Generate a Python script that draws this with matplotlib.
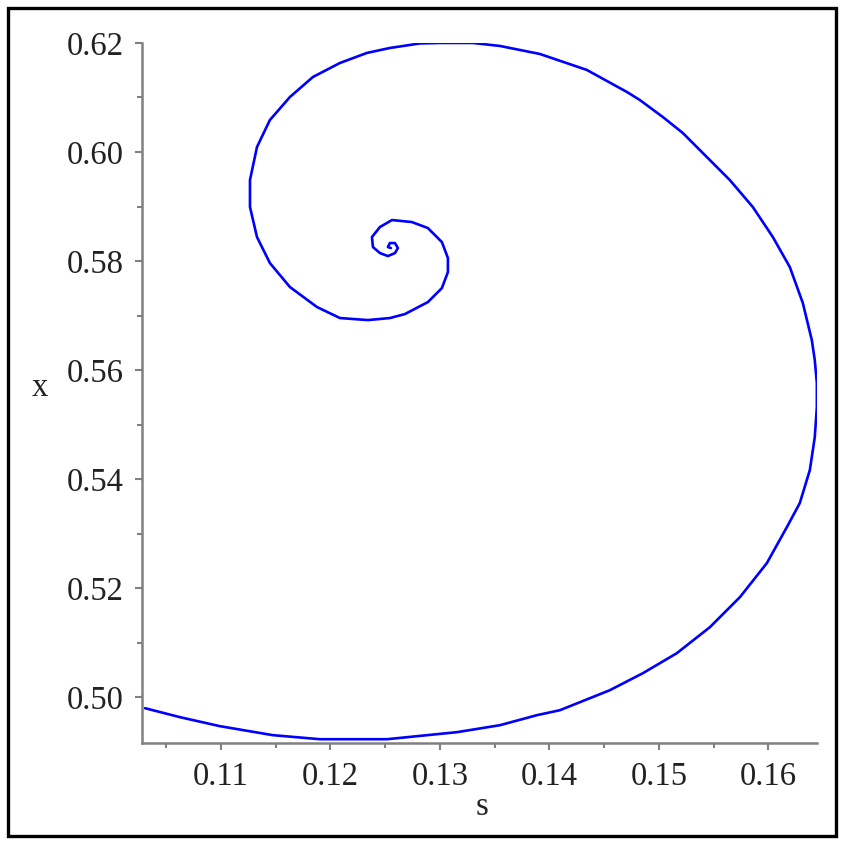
import matplotlib

matplotlib.use("Agg")
import matplotlib.pyplot as plt
from matplotlib.patches import Rectangle
from matplotlib.ticker import MultipleLocator

# trajectory in the (s, x) phase plane
s_values = [
    0.10306, 0.10626, 0.10991, 0.11475, 0.11904, 0.12516, 0.13155, 0.13548,
    0.13886, 0.14096, 0.14552, 0.14854, 0.15164, 0.15466, 0.15740, 0.15986,
    0.16169, 0.16287, 0.16379, 0.16424, 0.16443, 0.16443, 0.16424, 0.16397,
    0.16315, 0.16196, 0.16041, 0.15858, 0.15648, 0.15438, 0.15219, 0.15036,
    0.14826, 0.14708, 0.14342, 0.13913, 0.13548, 0.13301, 0.13000, 0.12817,
    0.12543, 0.12333, 0.12087, 0.11840, 0.11630, 0.11447, 0.11329, 0.11265,
    0.11265, 0.11329, 0.11447, 0.11630, 0.11877, 0.12087, 0.12342, 0.12543,
    0.12680, 0.12890, 0.13018, 0.13073, 0.13073, 0.13018, 0.12890, 0.12744,
    0.12562, 0.12452, 0.12379, 0.12388, 0.12452, 0.12525, 0.12589, 0.12616,
    0.12589, 0.12543, 0.12525, 0.12552,
]
x_values = [
    0.49798, 0.49633, 0.49468, 0.49303, 0.49229, 0.49229, 0.49358, 0.49486,
    0.49670, 0.49761, 0.50128, 0.50440, 0.50807, 0.51284, 0.51834, 0.52458,
    0.53119, 0.53559, 0.54165, 0.54770, 0.55321, 0.55761, 0.56183, 0.56550,
    0.57229, 0.57890, 0.58440, 0.58991, 0.59486, 0.59908, 0.60348, 0.60642,
    0.60954, 0.61101, 0.61505, 0.61798, 0.61945, 0.62000, 0.62000, 0.61991,
    0.61908, 0.61817, 0.61633, 0.61376, 0.61009, 0.60587, 0.60092, 0.59486,
    0.58991, 0.58440, 0.57963, 0.57523, 0.57156, 0.56954, 0.56917, 0.56954,
    0.57027, 0.57247, 0.57504, 0.57798, 0.58055, 0.58348, 0.58605, 0.58715,
    0.58752, 0.58624, 0.58440, 0.58257, 0.58146, 0.58091, 0.58146, 0.58238,
    0.58330, 0.58330, 0.58257, 0.58238,
]

x_ticks = [0.11, 0.12, 0.13, 0.14, 0.15, 0.16]
y_ticks = [0.50, 0.52, 0.54, 0.56, 0.58, 0.60, 0.62]

plt.rcParams["font.family"] = ["Liberation Serif", "DejaVu Serif"]

fig = plt.figure(figsize=(8.44, 8.44), dpi=100)
ax = fig.add_axes([0.1679, 0.1197, 0.7998, 0.8294])

ax.plot(s_values, x_values, color="#0000ff", linewidth=1.9,
        solid_joinstyle="round", solid_capstyle="round")

ax.set_xlim(0.10276, 0.16442)
ax.set_ylim(0.4916, 0.6200)
ax.set_xticks(x_ticks)
ax.set_xticklabels([f"{v:.2f}" for v in x_ticks])
ax.set_yticks(y_ticks)
ax.set_yticklabels([f"{v:.2f}" for v in y_ticks])
ax.xaxis.set_minor_locator(MultipleLocator(0.005))
ax.yaxis.set_minor_locator(MultipleLocator(0.01))

for side in ("top", "right"):
    ax.spines[side].set_visible(False)
for side in ("left", "bottom"):
    ax.spines[side].set_color("#808080")
    ax.spines[side].set_linewidth(1.8)

ax.tick_params(which="major", length=5, width=1.5, color="#808080",
               labelsize=23.5, labelcolor="#222222")
ax.tick_params(axis="x", which="major", pad=8)
ax.tick_params(axis="y", which="major", pad=8)
ax.tick_params(which="minor", length=3.5, width=1.5, color="#808080")

ax.set_xlabel("s", fontsize=23.5, color="#222222")
ax.set_ylabel("x", fontsize=23.5, color="#222222", rotation=0)
ax.xaxis.set_label_coords(0.504, -0.091)
ax.yaxis.set_label_coords(-0.151, 0.507)
ax.xaxis.label.set_va("center")
ax.yaxis.label.set_va("center")
ax.yaxis.label.set_ha("center")

# black frame around the whole picture
fig.patches.append(Rectangle((0.0095, 0.0095), 0.981, 0.981, transform=fig.transFigure,
                             fill=False, edgecolor="black", linewidth=2.4))

fig.savefig("out.png", dpi=100)
